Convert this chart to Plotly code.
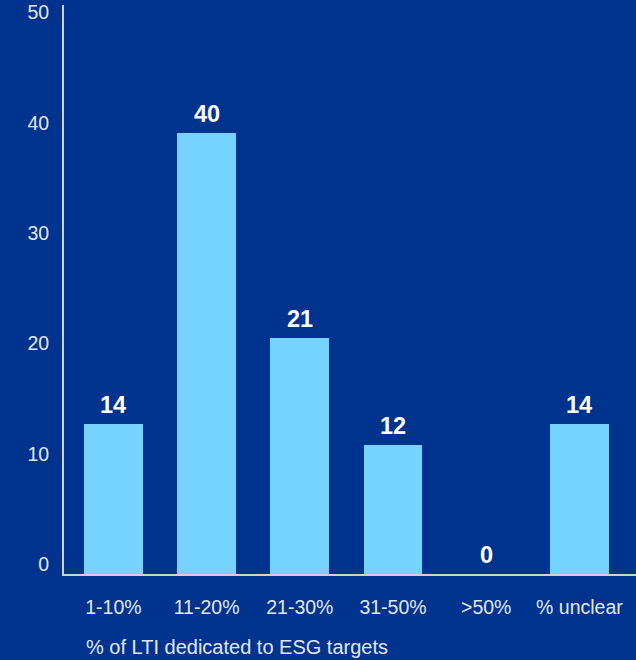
import plotly.graph_objects as go

categories = ["1-10%", "11-20%", "21-30%", "31-50%", ">50%", "% unclear"]
values = [13.6, 40.0, 21.4, 11.7, 0.0, 13.6]
y_ticks = [0, 10, 20, 30, 40, 50]
x_title = "% of LTI dedicated to ESG targets"

BG = "#00338D"
BAR = "#76D2FF"
TXT = "#E2E8F3"
LINE = "#C9D1E3"
FONT = "Liberation Sans, Arial, sans-serif"

fig = go.Figure()
fig.add_trace(go.Bar(
    x=list(range(len(categories))), y=values,
    marker=dict(color=BAR, line=dict(width=0)),
    width=0.63, hoverinfo="skip",
))

for i, v in enumerate(values):
    fig.add_annotation(
        x=i, y=v, xref="x", yref="y",
        text=f"<b>{v:.0f}</b>", showarrow=False,
        yanchor="middle", yshift=19,
        font=dict(family=FONT, size=23.5, color="white"),
    )

fig.add_annotation(
    x=(86 - 64) / 572, y=0, xref="paper", yref="paper",
    text=x_title, showarrow=False, xanchor="left", yanchor="middle",
    yshift=-73, xshift=-2, font=dict(family=FONT, size=20, color=TXT),
)

fig.update_layout(
    width=636, height=660,
    margin=dict(l=64, r=0, t=5, b=86),
    paper_bgcolor=BG, plot_bgcolor=BG,
    showlegend=False, bargap=0,
    font=dict(family=FONT, color=TXT, size=19),
)
fig.update_xaxes(
    range=[-0.53, 5.607],
    tickmode="array", tickvals=list(range(len(categories))), ticktext=categories,
    showgrid=False, zeroline=False,
    showline=True, linecolor=LINE, linewidth=2,
    ticks="", ticklabelstandoff=15,
    tickfont=dict(family=FONT, size=19.5, color=TXT),
)
fig.update_yaxes(
    range=[0, 51.6],
    tickmode="array", tickvals=y_ticks,
    showgrid=False, zeroline=False,
    showline=True, linecolor=LINE, linewidth=2,
    ticks="", ticklabelstandoff=9, ticklabelshift=-10,
    tickfont=dict(family=FONT, size=19.5, color=TXT),
)

fig.write_html("out.html")
